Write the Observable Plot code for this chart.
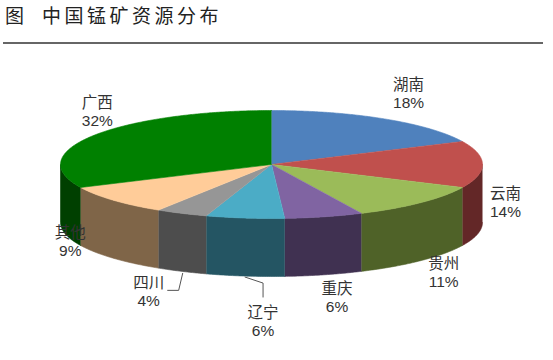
<!DOCTYPE html>
<html><head><meta charset="utf-8">
<script src="https://cdn.jsdelivr.net/npm/d3@7"></script>
<script src="https://cdn.jsdelivr.net/npm/@observablehq/plot@0.6"></script>
<style>
body{margin:0;background:#fff;font-family:"Noto Sans CJK SC",sans-serif;}
#title{height:42px;width:540px;margin-left:3px;border-bottom:2px solid #666;position:relative;}
#title span{position:absolute;top:1px;font-size:19px;color:#222;letter-spacing:3.5px;white-space:nowrap}
#chart svg{display:block}
</style></head><body>
<div id="title"><span style="left:2px">图</span><span style="left:39px">中国锰矿资源分布</span></div>
<div id="chart"></div>
<script>
// ---- data ----
const regions = ["湖南","云南","贵州","重庆","辽宁","四川","其他","广西"];
const shares  = [18, 14, 11, 6, 6, 4, 9, 32];
const topColors  = ["#4F81BD","#C0504D","#9BBB59","#8064A2","#4BACC6","#969696","#FFCC99","#008000"];
const sideColors = ["#2C4D75","#632727","#4F6228","#403151","#245563","#4D4D4D","#7F6548","#004000"];

// ---- layout ----
const RXpx = 211, RYpx = 54, DEPTHpx = 58;
const D = DEPTHpx / RYpx;               // depth in y units
const toX = px => px / RXpx, toY = px => px / RYpx;
// label nudges (px) relative to the slice's outer anchor
const nudges = [[24,-26],[23,38],[23,12],[13,22],[18,45],[-33,20],[-43,-17],[4,-24]];
const leaders = {4: [[0,1],[18,7],[18,21]], 5: [[1,2],[-3,19],[-14,19]]};

const total = d3.sum(shares);
const rad = a => a * Math.PI / 180;
const px = a => Math.sin(rad(a)), py = a => -Math.cos(rad(a));

const tops = [], sides = [], labels = [], leaderPts = [];
let cum = 0;
shares.forEach((v, i) => {
  const a0 = cum / total * 360, a1 = (cum + v) / total * 360;
  cum += v;
  const n = Math.max(2, Math.ceil((a1 - a0) / 0.5));
  tops.push({id: "t" + i, x: 0, y: 0, c: topColors[i]});
  for (let k = 0; k <= n; k++) {
    const a = a0 + (a1 - a0) * k / n;
    tops.push({id: "t" + i, x: px(a), y: py(a), c: topColors[i]});
  }
  const b0 = Math.max(a0, 90), b1 = Math.min(a1, 270);
  if (b1 > b0) {
    const m = Math.max(2, Math.ceil((b1 - b0) / 0.5));
    for (let k = 0; k <= m; k++) {
      const a = b0 + (b1 - b0) * k / m;
      sides.push({id: "s" + i, x: px(a), y: py(a), c: sideColors[i]});
    }
    for (let k = m; k >= 0; k--) {
      const a = b0 + (b1 - b0) * k / m;
      sides.push({id: "s" + i, x: px(a), y: py(a) + D, c: sideColors[i]});
    }
  }
  const am = (a0 + a1) / 2;
  const ax = px(am), ay = py(am) + (Math.cos(rad(am)) < 0 ? D : 0);
  labels.push({x: ax + toX(nudges[i][0]), y: ay + toY(nudges[i][1]),
               text: regions[i] + "\n" + Math.round(v / total * 100) + "%"});
  if (leaders[i]) leaders[i].forEach(([dx, dy]) => leaderPts.push({id: i, x: ax + toX(dx), y: ay + toY(dy)}));
});

const chart = Plot.plot({
  width: 553, height: 316, margin: 0,
  x: {domain: [-1, 1], range: [60, 482], axis: null},
  y: {domain: [-1, 1], range: [66, 174], axis: null},
  color: {type: "identity"},
  style: {background: "#fff", overflow: "visible"},
  marks: [
    Plot.line(sides, {x: "x", y: "y", z: "id", fill: "c", stroke: "c", strokeWidth: 0.6, curve: "linear"}),
    Plot.line(tops, {x: "x", y: "y", z: "id", fill: "c", stroke: "c", strokeWidth: 0.6, curve: "linear"}),
    Plot.line(leaderPts, {x: "x", y: "y", z: "id", stroke: "#555", strokeWidth: 1, curve: "linear"}),
    Plot.text(labels, {x: "x", y: "y", text: "text", lineAnchor: "middle", textAnchor: "middle",
      fontSize: 15.5, lineHeight: 1.16, fill: "#333", fontFamily: "Liberation Sans, 'Noto Sans CJK SC', sans-serif"})
  ]
});
document.getElementById("chart").appendChild(chart);
</script>
</body></html>
